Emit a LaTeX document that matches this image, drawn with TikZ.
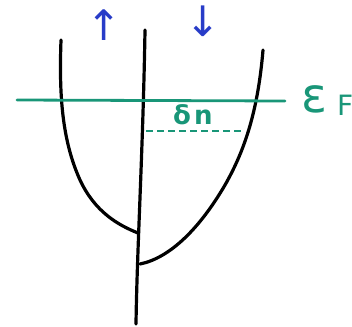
\documentclass[tikz,border=0pt]{standalone}
\usepackage{fontspec}
\setmainfont{DejaVu Sans}
\definecolor{paper}{RGB}{250,248,240}
\definecolor{fermigreen}{RGB}{25,150,120}
\definecolor{spinblue}{RGB}{40,60,200}
\begin{document}
\begin{tikzpicture}[x=1pt,y=-1pt,
  band/.style={line width=3.2pt, line cap=round, line join=round, black},
  fermi/.style={line width=2.8pt, fermigreen, line cap=round},
  fill/.style={line width=2.2pt, fermigreen, dash pattern=on 7pt off 4pt},
  spin/.style={text=spinblue, font=\fontsize{42}{42}\selectfont, inner sep=0pt, anchor=center}]
\fill[paper] (0,0) rectangle (352,326);
\useasboundingbox (0,0) rectangle (352,326);
% coordinates
\coordinate (axtop) at (145,30);
\coordinate (axbot) at (136,324);
\coordinate (ljoin) at (138,233);
\coordinate (rjoin) at (140,264);
% axis
\draw[band] (axtop) .. controls (143,150) and (137,250) .. (axbot);
% left (spin up) band
\draw[band] (61,40) .. controls (59,95) and (62,140) .. (80,180)
  .. controls (95,212) and (118,225) .. (ljoin);
% right (spin down) band
\draw[band] (263,50) .. controls (258,110) and (245,150) .. (225,185)
  .. controls (200,228) and (170,258) .. (rjoin);
% Fermi level
\coordinate (fl) at (17,100);
\coordinate (fr) at (285,101);
\draw[fermi] (fl) -- (fr);
\node[text=fermigreen, anchor=base west, inner sep=0pt] (ef) at (301,112)
  {\fontsize{48}{48}\selectfont ε\hspace{10pt}\raisebox{-3pt}{\fontsize{28}{28}\selectfont F}};
% dn
\node[text=fermigreen, anchor=base west, inner sep=0pt, font=\bfseries\fontsize{26}{26}\selectfont] (dn) at (173,124) {δ\hspace{3pt}n};
\coordinate (dl) at (146,131);
\coordinate (dr) at (243,131);
\draw[fill] (dl) -- (dr);
% spin labels
\node[spin] (up) at (104,25) {↑};
\node[spin] (down) at (203,21) {↓};
\end{tikzpicture}
\end{document}
